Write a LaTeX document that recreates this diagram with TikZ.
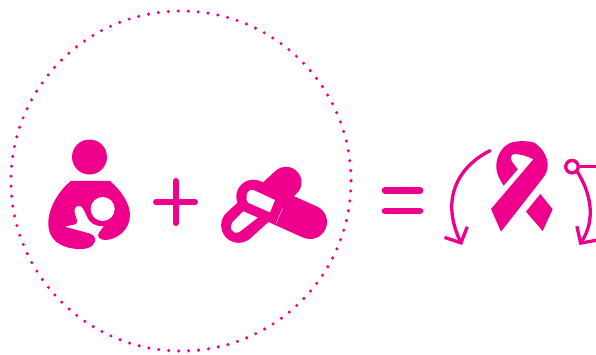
\documentclass[tikz,border=0pt]{standalone}
\usepackage{xcolor}
\usetikzlibrary{arrows.meta}
\definecolor{ribbonpink}{HTML}{EE008C}

\begin{document}
\begin{tikzpicture}[
  x=1pt, y=-1pt,
  solid/.style={fill=ribbonpink, draw=none},
  punched/.style={fill=white, draw=none},
  stroke/.style={draw=ribbonpink, line cap=round, line join=round},
  sign/.style={stroke, line width=6.5pt},
  curved/.style={stroke, line width=3.3pt, -{Straight Barb[length=12pt,width=25pt,line width=3.3pt]}},
  zoomed/.style={x=0.3333pt, y=-0.3333pt}
]
  \useasboundingbox (0,0) rectangle (596,354);
  \draw[stroke, line width=3.4pt, dash pattern=on 0pt off 9.98pt] (181,181) circle[radius=170];

  % mother and child
  \fill[solid] (89.5,157) circle[radius=17.5];
  \begin{scope}[shift={(30,120)}, zoomed]
    \fill[solid] (122,183) -- (240,183) .. controls (272,210) and (300,250) .. (300,285)
      .. controls (300,330) and (260,360) .. (225,360) .. controls (208,360) and (200,348) .. (207,338)
      -- (222,318) .. controls (195,320) and (180,310) .. (170,288) .. controls (160,265) and (155,258) .. (148,258)
      .. controls (135,256) and (130,270) .. (135,282) .. controls (142,298) and (142,308) .. (138,312)
      -- (104,320) -- (170,338) .. controls (190,342) and (198,352) .. (195,365)
      .. controls (188,385) and (160,390) .. (140,387) .. controls (90,382) and (55,360) .. (55,310)
      .. controls (55,260) and (90,210) .. cycle;
    \fill[punched] (218,267) circle[radius=36];
  \end{scope}

  \draw[sign, line width=6pt] (156,202) -- (195,202);
  \draw[sign, line width=6pt] (175.7,181) -- (175.7,223);

  % capsules
  \begin{scope}[shift={(210,150)}, zoomed]
    \draw[stroke, line width=31pt] (228,97) -- (170,150);
    \draw[stroke, line width=35pt] (170,150) -- (86,226);
    \draw[stroke, line width=34pt] (130,140) -- (300,216);
    \fill[punched] (130,120) -- (195,150) -- (180,187) -- (118,160)
      .. controls (100,150) and (110,115) .. cycle;
    \fill[punched] (100,184) -- (143,203) -- (88,246) .. controls (68,256) and (52,230) .. (72,212) -- cycle;
    \draw[white, line width=0.3pt] (218,175) -- (198,220);
  \end{scope}

  \draw[sign, line width=6.7pt] (385,190.5) -- (420,190.5);
  \draw[sign, line width=6.7pt] (385,211) -- (420,211);

  % ribbon with arrows
  \begin{scope}[shift={(436,130)}, zoomed]
    \fill[solid] (203,167) .. controls (185,140) and (178,120) .. (182,95)
      .. controls (188,65) and (205,45) .. (225,38) .. controls (245,32) and (275,32) .. (295,38)
      .. controls (320,55) and (335,80) .. (335,105) .. controls (335,120) and (330,133) .. (320,145)
      -- (195,305) -- (165,237) -- (292,88) .. controls (275,78) and (250,72) .. (235,72)
      .. controls (222,72) and (224,88) .. (228,95) -- (245,118) -- cycle;
    \fill[solid] (313,192) -- (350,238) -- (320,303) -- (270,245) -- cycle;
    \node[circle, draw=ribbonpink, line width=3.3pt, fill=white, inner sep=0pt, minimum size=12.5pt] (ring) at (408,110) {};
    \coordinate (leftstart) at (162,62);
    \coordinate (leftend) at (78,345);
    \coordinate (rightend) at (430,345);
    \coordinate (wireend) at (480,110);
    \draw[curved] (leftstart) .. controls (85,100) and (5,190) .. (leftend);
    \draw[curved] (ring.south east) .. controls (465,190) and (480,270) .. (rightend);
    \draw[stroke, line width=3.3pt, line cap=butt] (ring.east) -- (wireend);
  \end{scope}
\end{tikzpicture}
\end{document}
